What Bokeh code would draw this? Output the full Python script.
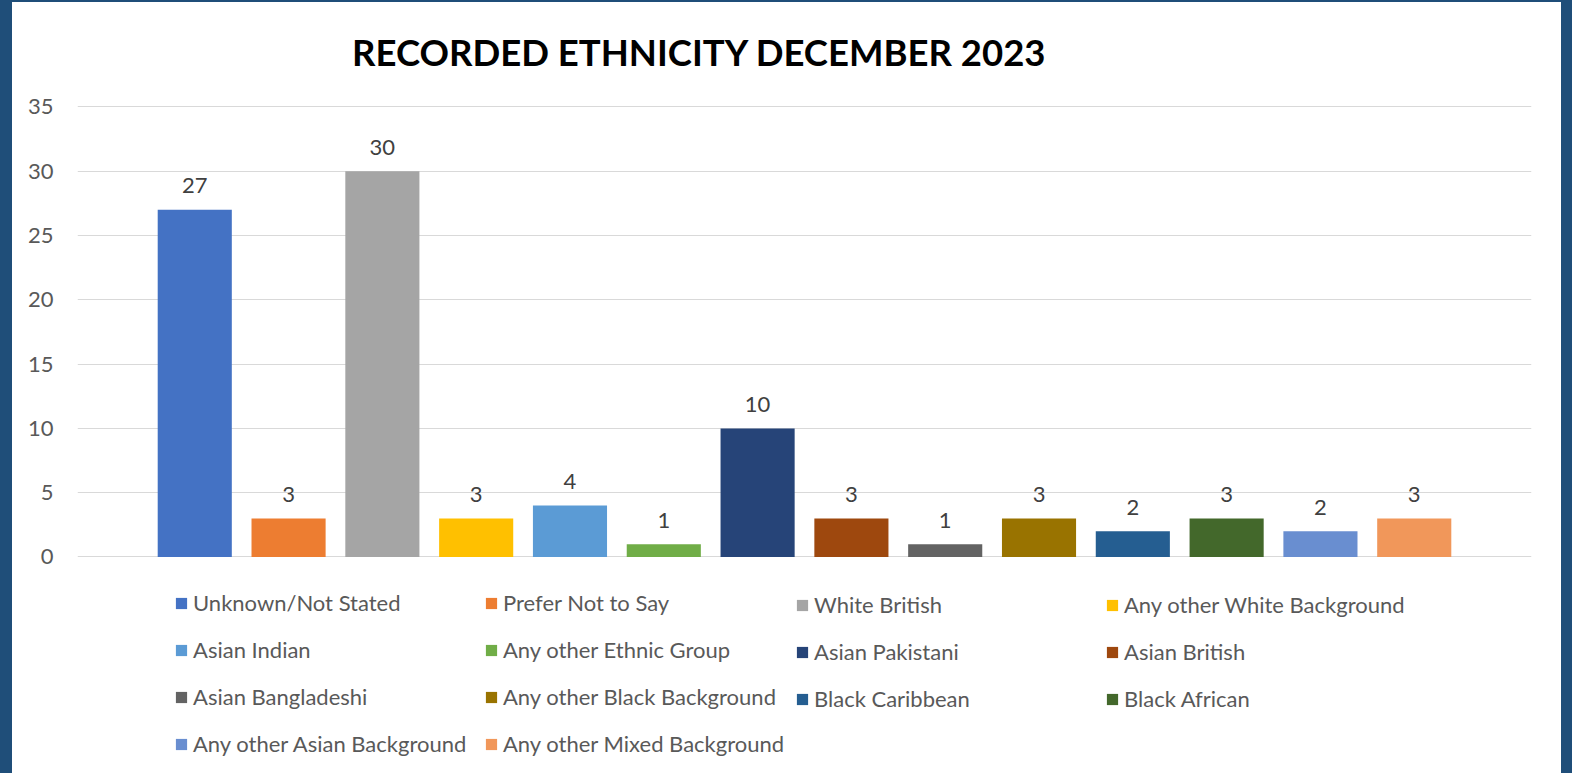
from bokeh.plotting import figure
from bokeh.models import ColumnDataSource, Range1d, Legend, LegendItem, Label
from bokeh.layouts import column
from bokeh.embed import file_html
from bokeh.resources import INLINE

title_text = "RECORDED ETHNICITY DECEMBER 2023"

categories = [
    "Unknown/Not Stated", "Prefer Not to Say", "White British", "Any other White Background",
    "Asian Indian", "Any other Ethnic Group", "Asian Pakistani", "Asian British",
    "Asian Bangladeshi", "Any other Black Background", "Black Caribbean", "Black African",
    "Any other Asian Background", "Any other Mixed Background",
]
counts = [27, 3, 30, 3, 4, 1, 10, 3, 1, 3, 2, 3, 2, 3]
colors = [
    "#4472C4", "#ED7D31", "#A5A5A5", "#FFC000",
    "#5B9BD5", "#70AD47", "#264478", "#9E480E",
    "#636363", "#997300", "#255E91", "#43682B",
    "#698ED0", "#F1975A",
]
y_ticks = [0, 5, 10, 15, 20, 25, 30, 35]

FONT = "Lato"
BORDER = "#1F4E79"
W, H = 1549, 771

src = ColumnDataSource(dict(
    x=list(range(len(categories))),
    top=counts,
    color=colors,
    label=[str(v) for v in counts],
    cat=categories,
))

p = figure(
    width=W, height=H,
    x_range=Range1d(-1.25, len(categories) + 0.25),
    y_range=Range1d(-16.217, 41.883),
    output_backend="svg", toolbar_location=None,
    min_border_left=65, min_border_right=30, min_border_top=16, min_border_bottom=8,
    styles={"background-color": "white"},
)
p.background_fill_color = "white"
p.border_fill_color = "white"
p.outline_line_color = None

bars = p.vbar(x="x", top="top", width=0.79, bottom=0, source=src,
              fill_color="color", line_color=None)

p.text(x="x", y="top", text="label", source=src, text_align="center",
       text_baseline="middle", y_offset=-24, text_font_size="22px",
       text_color="#404040", text_font={"value": FONT})

p.xaxis.visible = False
p.xgrid.visible = False
p.ygrid.grid_line_color = "#D9D9D9"
p.ygrid.grid_line_width = 1.2
p.yaxis.ticker = y_ticks
p.yaxis.axis_line_color = None
p.yaxis.major_tick_line_color = None
p.yaxis.minor_tick_line_color = None
p.yaxis.major_tick_out = 0
p.yaxis.major_label_standoff = 24
p.yaxis.major_label_text_font = FONT
p.yaxis.major_label_text_font_size = "22px"
p.yaxis.major_label_text_color = "#595959"

# frame: left edge at page x=77, bottom edge at page y=765
title = Label(x=622, y=714, x_units="screen", y_units="screen", text=title_text,
              text_align="center", text_baseline="middle", text_font=FONT,
              text_font_style="bold", text_font_size="36.5px", text_color="black")
p.add_layout(title)

col_x = [97, 407, 718, 1028]
for j in range(4):
    idx = list(range(j, len(categories), 4))
    items = [LegendItem(label=categories[i], renderers=[bars], index=i) for i in idx]
    bottom_y = 8 if len(idx) == 4 else 53
    leg = Legend(items=items, location=(col_x[j], bottom_y), orientation="vertical",
                 padding=0, margin=0, spacing=20, label_height=25,
                 glyph_width=14, glyph_height=14, label_standoff=5,
                 label_text_font=FONT, label_text_font_size="22px",
                 label_text_color="#595959", border_line_alpha=0,
                 background_fill_alpha=0)
    p.add_layout(leg)

layout = column(p, styles={"background-color": BORDER, "padding": "2px 11px 0 12px"})

open("out.html", "w").write(file_html(layout, INLINE))
